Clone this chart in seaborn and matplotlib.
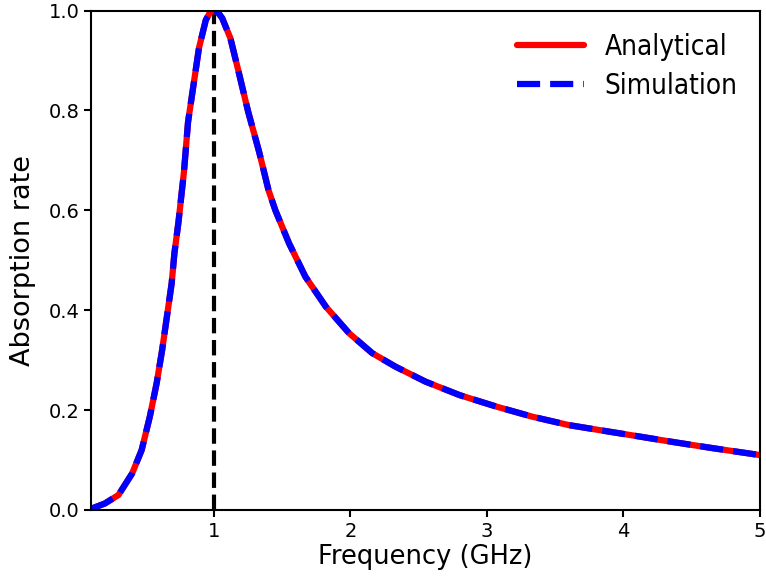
import matplotlib
matplotlib.use('Agg')
import matplotlib.pyplot as plt
import seaborn as sns
import pandas as pd

# values
freq_ghz = [0.105, 0.20, 0.30, 0.40, 0.47, 0.53, 0.58, 0.62, 0.655, 0.69, 0.71, 0.74,
            0.78, 0.81, 0.85, 0.89, 0.94, 0.97, 1.00, 1.03, 1.06, 1.12, 1.18, 1.25,
            1.33, 1.40, 1.45, 1.55, 1.67, 1.82, 1.99, 2.16, 2.33, 2.55, 2.80, 3.07,
            3.33, 3.60, 3.87, 4.12, 4.39, 4.65, 5.00]
absorption_analytical = [0.003, 0.013, 0.030, 0.073, 0.120, 0.187, 0.254, 0.320, 0.387, 0.454,
                         0.514, 0.577, 0.677, 0.777, 0.851, 0.925, 0.981, 0.996, 1.000, 0.996,
                         0.985, 0.945, 0.878, 0.798, 0.718, 0.640, 0.600, 0.534, 0.467, 0.407,
                         0.354, 0.314, 0.287, 0.257, 0.230, 0.207, 0.187, 0.170, 0.158, 0.147,
                         0.135, 0.124, 0.110]
absorption_simulation = list(absorption_analytical)
resonance_ghz = 1.0

df = pd.DataFrame({'freq': freq_ghz,
                   'analytical': absorption_analytical,
                   'simulation': absorption_simulation})

sns.set_style("ticks")
plt.rcParams['font.family'] = ['DejaVu Sans']
for k in ['text.color', 'axes.labelcolor', 'xtick.color', 'ytick.color']:
    plt.rcParams[k] = 'black'

fig = plt.figure(figsize=(7.66, 5.76), dpi=100)
ax = fig.add_axes([0.119, 0.1146, 0.873, 0.867])

sns.lineplot(data=df, x='freq', y='analytical', color='red', lw=4.5,
             label='Analytical', ax=ax)
sns.lineplot(data=df, x='freq', y='simulation', color='blue', lw=4.5,
             linestyle='--', label='Simulation', ax=ax)
ax.plot([resonance_ghz, resonance_ghz], [0, 1], color='black', lw=3, ls='--', zorder=1)

ax.set_xlim(0.1, 5)
ax.set_ylim(0, 1)
ax.set_xticks([1, 2, 3, 4, 5])
ax.set_yticks([0, 0.2, 0.4, 0.6, 0.8, 1.0])
ax.set_xlabel('Frequency (GHz)', fontsize=18.5, labelpad=2)
ax.set_ylabel('Absorption rate', fontsize=19.5, labelpad=9)
ax.tick_params(labelsize=14, length=5, width=1.5, color='black')
for s in ax.spines.values():
    s.set_linewidth(1.5)
    s.set_color('black')

ax.legend(loc='upper right', frameon=False, handlelength=2.4, handletextpad=0.75,
          labelspacing=0.4, borderaxespad=0.4,
          prop={'family': 'DejaVu Sans', 'stretch': 'condensed', 'size': 20})

plt.savefig('out.png', dpi=100)
plt.close()
